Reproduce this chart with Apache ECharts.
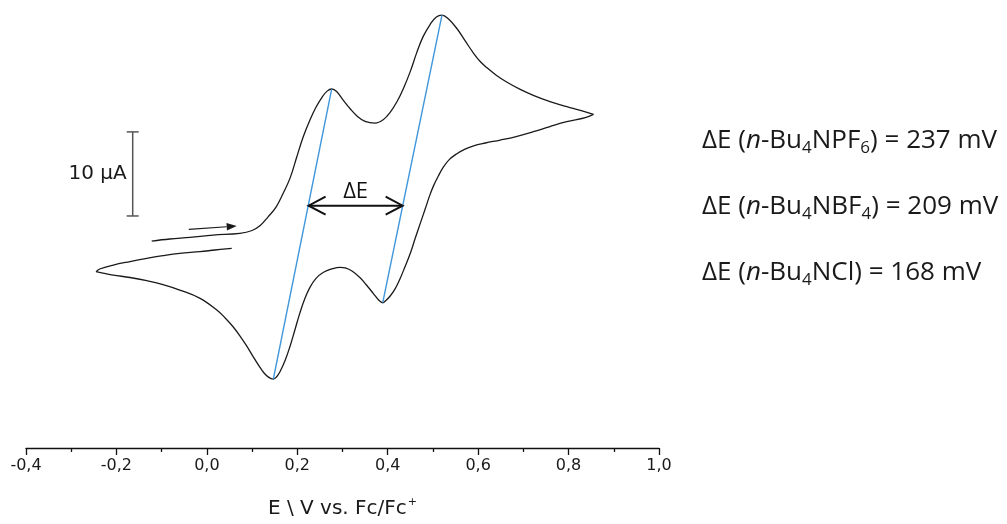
<!DOCTYPE html>
<html>
<head>
<meta charset="utf-8">
<script src="https://cdn.jsdelivr.net/npm/echarts@6/dist/echarts.min.js"></script>
<style>
  html, body { margin: 0; padding: 0; background: #ffffff; }
  #chart { width: 1007px; height: 524px; }
</style>
</head>
<body>
<div id="chart"></div>
<script>
// Potential axis ticks, V vs. Fc/Fc+
const potentialTicks = [-0.4, -0.2, 0.0, 0.2, 0.4, 0.6, 0.8, 1.0];

// Cyclic voltammogram as [E / V, I / µA], one array per sweep
const firstSweep = [
  [-0.122, 1.12], [-0.082, 1.36], [-0.037, 1.56], [0.014, 1.83], [0.073, 2.03],
  [0.100, 2.37], [0.118, 2.96], [0.135, 3.97], [0.153, 5.16], [0.168, 6.71],
  [0.184, 8.60], [0.199, 11.15], [0.213, 13.49], [0.228, 15.51], [0.241, 17.00],
  [0.255, 18.25], [0.266, 18.95], [0.276, 19.20], [0.287, 18.90], [0.302, 17.85],
  [0.317, 16.85], [0.332, 16.00], [0.350, 15.35], [0.372, 15.15], [0.390, 15.55],
  [0.405, 16.40], [0.421, 17.75], [0.435, 19.30], [0.450, 21.30], [0.464, 23.50],
  [0.478, 25.40], [0.494, 26.90], [0.507, 27.75], [0.520, 28.00], [0.534, 27.55],
  [0.553, 26.40], [0.571, 24.95], [0.590, 23.45], [0.604, 22.50], [0.619, 21.75],
  [0.640, 20.85], [0.664, 20.00], [0.693, 19.15], [0.722, 18.45], [0.759, 17.70],
  [0.796, 17.10], [0.826, 16.65], [0.855, 16.19]
];
const returnSweep = [
  [0.837, 15.81], [0.796, 15.31], [0.759, 14.74], [0.722, 14.12], [0.684, 13.55],
  [0.649, 13.13], [0.616, 12.78], [0.590, 12.45], [0.571, 12.05], [0.553, 11.50],
  [0.536, 10.80], [0.523, 9.90], [0.512, 8.85], [0.501, 7.65], [0.492, 6.40],
  [0.483, 4.95], [0.472, 3.22], [0.461, 1.47], [0.450, -0.34], [0.438, -1.97],
  [0.427, -3.40], [0.416, -4.60], [0.405, -5.45], [0.396, -5.95], [0.389, -6.22],
  [0.380, -5.90], [0.368, -5.10], [0.352, -4.05], [0.339, -3.25], [0.321, -2.45],
  [0.306, -2.08], [0.295, -2.01], [0.279, -2.15], [0.258, -2.60], [0.241, -3.35],
  [0.228, -4.40], [0.217, -5.70], [0.206, -7.40], [0.195, -9.40], [0.184, -11.40],
  [0.173, -13.10], [0.162, -14.40], [0.154, -15.05], [0.147, -15.30], [0.137, -15.10],
  [0.126, -14.55], [0.115, -13.70], [0.102, -12.60], [0.088, -11.35], [0.073, -10.15],
  [0.058, -9.08], [0.040, -8.00], [0.022, -7.09], [-0.015, -5.70], [-0.060, -4.71],
  [-0.097, -4.06], [-0.133, -3.60], [-0.170, -3.22], [-0.207, -2.93], [-0.230, -2.69],
  [-0.245, -2.53]
];
const finalSweep = [
  [-0.237, -2.21], [-0.207, -1.74], [-0.170, -1.32], [-0.133, -0.94], [-0.097, -0.61],
  [-0.060, -0.34], [-0.015, -0.15], [0.018, 0.05], [0.055, 0.25]
];

// Guides joining each anodic peak to its cathodic partner
const coupleOne = [[0.276, 19.20], [0.147, -15.30]];
const coupleTwo = [[0.520, 28.00], [0.389, -6.22]];

// Double arrow between the two guides
const deltaEArrow = [[0.225, 5.32], [0.433, 5.32]];
const deltaELabel = 'ΔE';

// Sweep direction arrow
const sweepArrow = [[-0.040, 2.51], [0.066, 2.90]];

// Current scale bar
const scaleBar = [[-0.164, 4.1], [-0.164, 14.1]];
const scaleBarLabel = '10 μA';

// Peak separations per supporting electrolyte
const electrolytes = ['NPF', 'NBF', 'NCl'];
const anionSubscripts = ['6', '4', ''];
const separationsMV = [237, 209, 168];

const INK = '#1a1a1a';
const GUIDE = '#3f96db';

const chart = echarts.init(document.getElementById('chart'), null, { renderer: 'canvas' });

function onlyFirst(params) { return params.dataIndex === 0; }

const separationText = electrolytes.map(function (anion, i) {
  const sub = anionSubscripts[i] ? '{s|' + anionSubscripts[i] + '}' : '';
  return {
    type: 'text',
    left: 702,
    top: 128 + i * 66,
    style: {
      text: '{b|ΔE (}{i|n}{b|-Bu}{s|4}{b|' + anion + '}' + sub + '{b|) = ' + separationsMV[i] + ' mV}',
      rich: {
        b: { fontFamily: 'Open Sans', fontSize: 26, fill: INK, lineHeight: 32 },
        i: { fontFamily: 'Open Sans', fontSize: 26, fontStyle: 'italic', fill: INK, lineHeight: 32 },
        s: { fontFamily: 'Open Sans', fontSize: 17, fill: INK, lineHeight: 21, verticalAlign: 'bottom' }
      }
    }
  };
});

const curveStyle = { color: INK, width: 1.3 };

function sweepSeries(points) {
  return {
    type: 'line',
    data: points,
    showSymbol: false,
    smooth: 0.4,
    clip: false,
    lineStyle: curveStyle,
    z: 3
  };
}

const option = {
  animation: false,
  backgroundColor: '#ffffff',
  grid: { left: 26, right: 348, top: 10, bottom: 76, containLabel: false },
  xAxis: {
    type: 'value',
    min: potentialTicks[0],
    max: potentialTicks[potentialTicks.length - 1],
    interval: 0.2,
    name: '{a|E \\ V vs. Fc/Fc}{p|+}',
    nameLocation: 'middle',
    nameGap: 49,
    nameTextStyle: {
      rich: {
        a: { fontFamily: 'DejaVu Sans', fontSize: 20, color: INK, lineHeight: 24 },
        p: { fontFamily: 'DejaVu Sans', fontSize: 11, color: INK, lineHeight: 24, verticalAlign: 'top', padding: [0, 0, 0, 1] }
      }
    },
    axisLine: { onZero: false, lineStyle: { color: '#111', width: 1.3 } },
    axisTick: { show: true, length: 7, lineStyle: { color: '#111', width: 1.3 } },
    minorTick: { show: true, splitNumber: 2, length: 4, lineStyle: { color: '#111', width: 1.3 } },
    splitLine: { show: false },
    axisLabel: {
      margin: 10,
      fontFamily: 'DejaVu Sans',
      fontSize: 16,
      color: INK,
      formatter: function (v) { return v.toFixed(1).replace('.', ','); }
    }
  },
  yAxis: {
    type: 'value',
    min: -23.5,
    max: 28.6,
    show: false,
    splitLine: { show: false }
  },
  graphic: separationText,
  series: [
    sweepSeries(firstSweep),
    sweepSeries([firstSweep[firstSweep.length - 1]].concat(returnSweep)),
    sweepSeries([returnSweep[returnSweep.length - 1]].concat(finalSweep)),
    {
      type: 'line',
      data: coupleOne,
      showSymbol: false,
      clip: false,
      lineStyle: { color: GUIDE, width: 1.4 },
      z: 4
    },
    {
      type: 'line',
      data: coupleTwo,
      showSymbol: false,
      clip: false,
      lineStyle: { color: GUIDE, width: 1.4 },
      z: 4
    },
    {
      // ΔE double arrow with open heads
      type: 'custom',
      data: deltaEArrow,
      clip: false,
      z: 5,
      renderItem: function (params, api) {
        if (!onlyFirst(params)) return null;
        const a = api.coord(deltaEArrow[0]);
        const b = api.coord(deltaEArrow[1]);
        const L = 17, H = 9;
        const stroke = { stroke: '#111', lineWidth: 2, fill: null };
        return {
          type: 'group',
          children: [
            { type: 'line', shape: { x1: a[0] + 1, y1: a[1], x2: b[0] - 1, y2: b[1] }, style: stroke },
            { type: 'polyline', shape: { points: [[a[0] + L, a[1] - H], [a[0], a[1]], [a[0] + L, a[1] + H]] }, style: stroke },
            { type: 'polyline', shape: { points: [[b[0] - L, b[1] - H], [b[0], b[1]], [b[0] - L, b[1] + H]] }, style: stroke },
            {
              type: 'text',
              style: {
                text: deltaELabel, x: (a[0] + b[0]) / 2, y: a[1] - 14,
                align: 'center', verticalAlign: 'middle',
                fontFamily: 'Open Sans', fontSize: 22, fill: '#111'
              }
            }
          ]
        };
      }
    },
    {
      // sweep direction
      type: 'custom',
      data: sweepArrow,
      clip: false,
      z: 5,
      renderItem: function (params, api) {
        if (!onlyFirst(params)) return null;
        const a = api.coord(sweepArrow[0]);
        const b = api.coord(sweepArrow[1]);
        const dx = b[0] - a[0], dy = b[1] - a[1];
        const len = Math.sqrt(dx * dx + dy * dy);
        const ux = dx / len, uy = dy / len;
        const hl = 10, hw = 3.8;
        const bx = b[0] - ux * hl, by = b[1] - uy * hl;
        return {
          type: 'group',
          children: [
            { type: 'line', shape: { x1: a[0], y1: a[1], x2: bx, y2: by }, style: { stroke: INK, lineWidth: 1.2 } },
            {
              type: 'polygon',
              shape: { points: [[b[0], b[1]], [bx - uy * hw, by + ux * hw], [bx + uy * hw, by - ux * hw]] },
              style: { fill: INK }
            }
          ]
        };
      }
    },
    {
      // current scale bar
      type: 'custom',
      data: scaleBar,
      clip: false,
      z: 5,
      renderItem: function (params, api) {
        if (!onlyFirst(params)) return null;
        const a = api.coord(scaleBar[0]);
        const b = api.coord(scaleBar[1]);
        const cap = 6;
        const st = { stroke: '#555', lineWidth: 1.5 };
        return {
          type: 'group',
          children: [
            { type: 'line', shape: { x1: a[0], y1: a[1], x2: b[0], y2: b[1] }, style: st },
            { type: 'line', shape: { x1: a[0] - cap, y1: a[1], x2: a[0] + cap, y2: a[1] }, style: st },
            { type: 'line', shape: { x1: b[0] - cap, y1: b[1], x2: b[0] + cap, y2: b[1] }, style: st },
            {
              type: 'text',
              style: {
                text: scaleBarLabel, x: a[0] - 6, y: (a[1] + b[1]) / 2,
                align: 'right', verticalAlign: 'middle',
                fontFamily: 'DejaVu Sans', fontSize: 20, fill: INK
              }
            }
          ]
        };
      }
    }
  ]
};

chart.setOption(option);
</script>
</body>
</html>
